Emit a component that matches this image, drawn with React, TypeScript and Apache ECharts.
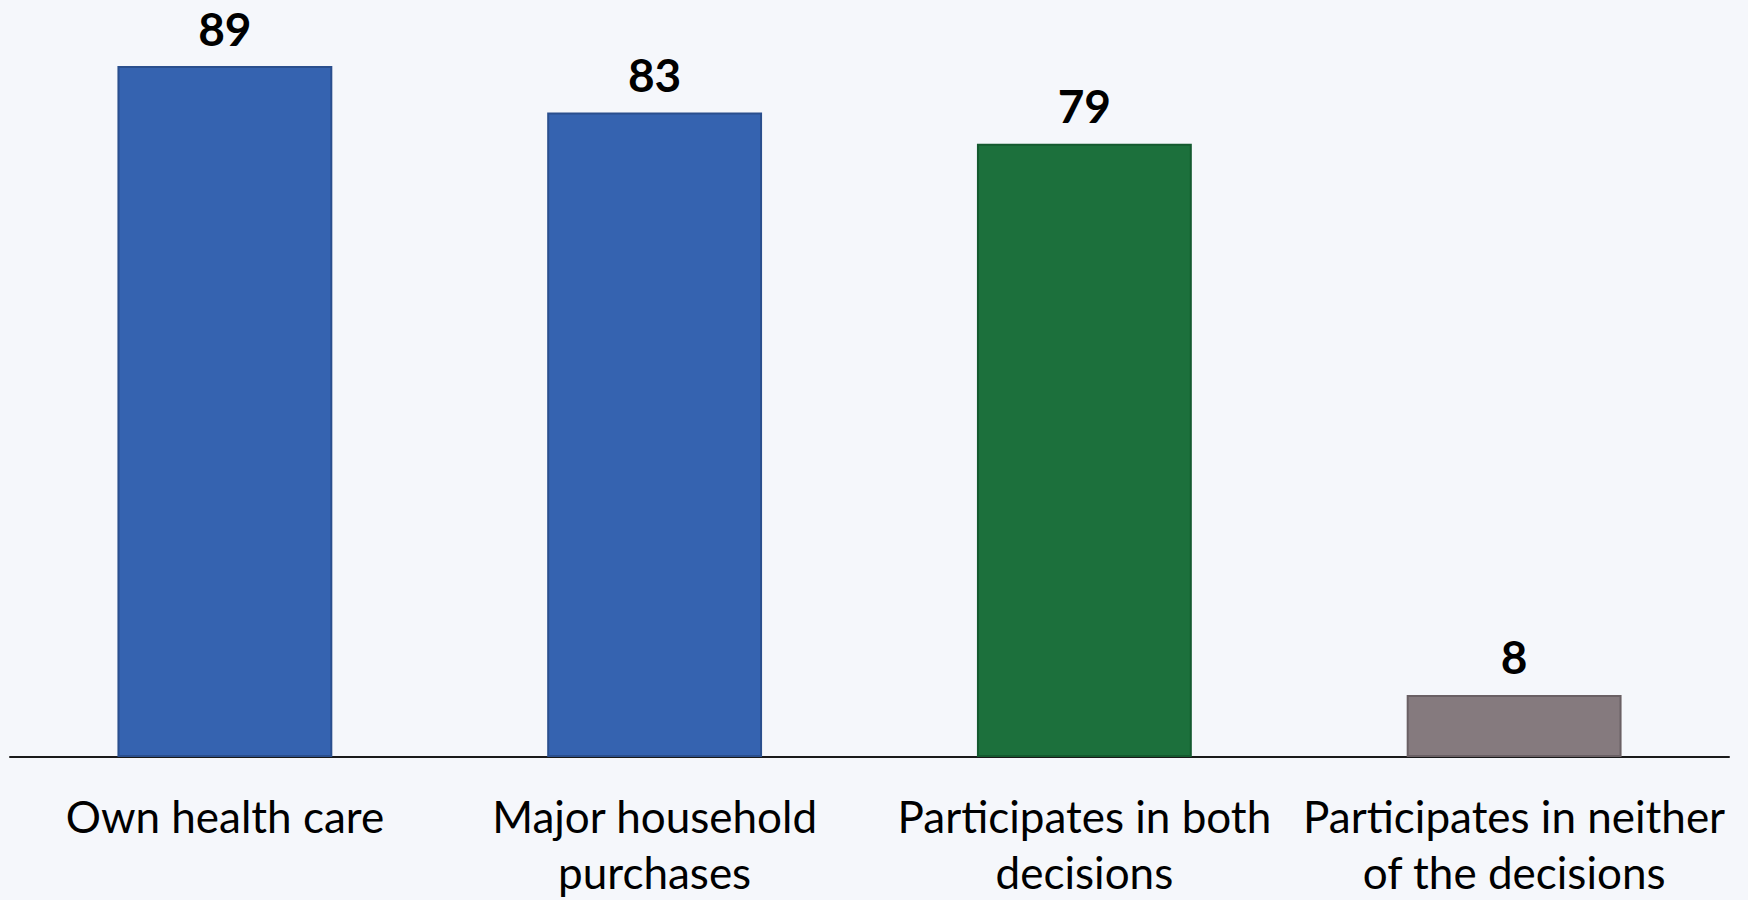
import React, { useEffect, useRef } from "react";
import * as echarts from "echarts";

const categories = [
  "Own health care",
  "Major household\npurchases",
  "Participates in both\ndecisions",
  "Participates in neither\nof the decisions",
];
const values = [89, 83, 79, 8];
const barColors = ["#3563B0", "#3563B0", "#1C703C", "#857A7E"];
const borderColors = ["#2A4F8E", "#2A4F8E", "#145A2F", "#6A6064"];

export default function App() {
  const ref = useRef<HTMLDivElement>(null);
  useEffect(() => {
    if (!ref.current) return;
    const chart = echarts.init(ref.current, null, { renderer: "svg" });
    chart.setOption({
      animation: false,
      backgroundColor: "#F5F7FB",
      grid: { left: 10, right: 19, top: 66, bottom: 143, containLabel: false, outerBoundsMode: "none" },
      xAxis: {
        type: "category",
        data: categories,
        axisLine: { show: true, lineStyle: { color: "#1a1a1a", width: 2 } },
        axisTick: { show: false },
        axisLabel: {
          color: "#000",
          fontFamily: "Lato",
          fontSize: 44,
          lineHeight: 56,
          margin: 31,
          interval: 0,
        },
      },
      yAxis: {
        type: "value",
        min: 0,
        max: 89,
        show: false,
        splitLine: { show: false },
      },
      series: [
        {
          type: "bar",
          barWidth: "50%",
          data: values.map((v, i) => ({
            value: v,
            itemStyle: {
              color: barColors[i],
              borderColor: borderColors[i],
              borderWidth: 2,
            },
          })),
          label: {
            show: true,
            position: "top",
            distance: 14,
            color: "#000",
            fontFamily: "Lato",
            fontWeight: "bold",
            fontSize: 46,
            lineHeight: 48,
          },
        },
      ],
    });
    return () => chart.dispose();
  }, []);
  return <div ref={ref} style={{ width: 1748, height: 900, position: "absolute", left: 0, top: 0 }} />;
}
